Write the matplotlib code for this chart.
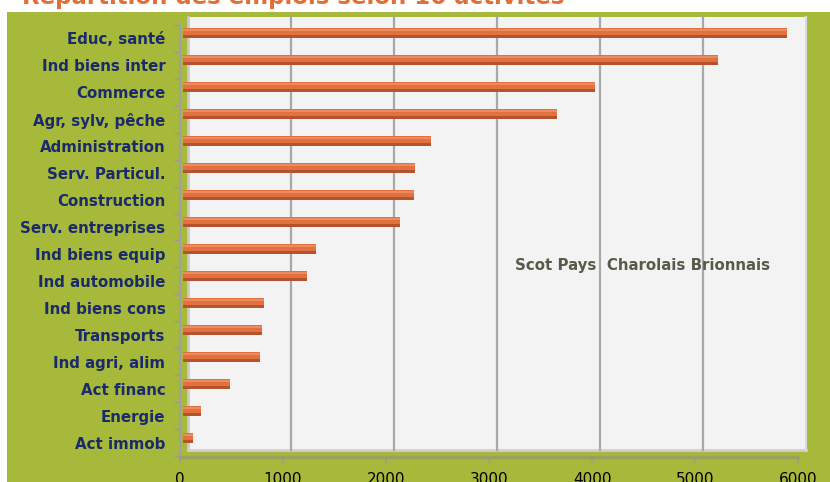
import numpy as np
import matplotlib.pyplot as plt
from matplotlib.patches import Rectangle
from matplotlib.transforms import offset_copy

# ── Données ───────────────────────────────────────────────────────────────────
activites = ['Educ, santé', 'Ind biens inter', 'Commerce', 'Agr, sylv, pêche',
             'Administration', 'Serv. Particul.', 'Construction',
             'Serv. entreprises', 'Ind biens equip', 'Ind automobile',
             'Ind biens cons', 'Transports', 'Ind agri, alim', 'Act financ',
             'Energie', 'Act immob']
emplois = [5860, 5190, 4000, 3630, 2410, 2250, 2240, 2110,
           1290, 1200, 790, 770, 750, 460, 170, 100]
xticks = [0, 1000, 2000, 3000, 4000, 5000, 6000]

titre = 'Répartition des emplois selon 16 activités'
zone = 'Scot Pays  Charolais Brionnais'

VERT = '#A6B93B'
ORANGE = '#E3713F'
BLEU = '#1B2A6B'

W, H = 830, 482
fig = plt.figure(figsize=(W / 100, H / 100), dpi=100)
fig.patch.set_facecolor('white')

# fond vert
fig.patches.append(Rectangle((7 / W, 0), 1, 1 - 12 / H, transform=fig.transFigure,
                             facecolor=VERT, edgecolor='none', zorder=-10))

# ── Axes (plan avant) ─────────────────────────────────────────────────────────
left, right, top, bottom = 180, 798, 24, 457
ax = fig.add_axes([left / W, 1 - bottom / H, (right - left) / W, (bottom - top) / H])
ax.set_zorder(5)
ax.set_facecolor('none')
ax.set_xlim(0, 6000)
ax.set_ylim(15.52, -0.52)

# ── Paroi du fond (effet 3D d'Excel) ──────────────────────────────────────────
fond = offset_copy(ax.get_xaxis_transform(), fig=fig, x=8, y=7, units='dots')
ax.add_patch(Rectangle((0, 0), 6000, 1, transform=fond, facecolor='#F3F3F3',
                       edgecolor='none', zorder=0, clip_on=False))
ax.plot([0, 0], [0, 1], transform=fond, color='#C9C9C9', lw=2, zorder=1, clip_on=False)
ax.plot([0, 6000], [0, 0], transform=fond, color='#D0D0D0', lw=2, zorder=1, clip_on=False)
ax.plot([6000, 6000], [0, 1], transform=fond, color='#DADADA', lw=1.5, zorder=1, clip_on=False)
for v in xticks[1:-1]:
    ax.plot([v, v], [0, 1], transform=fond, color='#A8A8A8', lw=1.6, zorder=1,
            clip_on=False)

# ── Barres "cylindres" (légèrement en profondeur) ─────────────────────────────
barres_t = offset_copy(ax.transData, fig=fig, x=3, y=0, units='dots')
y = np.arange(len(activites))
yc = y - 0.185
for h, dy, col in [(0.36, 0.0, ORANGE), (0.1, 0.13, '#B4532E'), (0.08, -0.12, '#EC8B5E')]:
    bars = ax.barh(yc + dy, emplois, height=h, color=col, edgecolor='none', zorder=3)
    for p in bars:
        p.set_transform(barres_t)
        p.set_clip_on(False)

ax.set_xticks(xticks)
ax.set_xticklabels([str(v) for v in xticks], fontsize=11, color='black')
ax.set_yticks(y)
ax.set_yticklabels(activites, fontsize=10.8, fontweight='bold', color=BLEU)
ax.set_yticks(np.arange(-0.5, len(activites), 1), minor=True)

ax.tick_params(axis='y', which='major', length=0, pad=10.5)
ax.tick_params(axis='y', which='minor', length=4, color='#9A9A9A', width=1)
ax.tick_params(axis='x', length=4, color='#9A9A9A', width=1.2, pad=7)

for s in ['top', 'right']:
    ax.spines[s].set_visible(False)
ax.spines['left'].set_color('#A0A0A0')
ax.spines['left'].set_linewidth(1.5)
ax.spines['bottom'].set_color('#9AA15E')
ax.spines['bottom'].set_linewidth(2.5)

ax.text(0.749, 0.443, zone, transform=ax.transAxes, ha='center', va='center',
        fontsize=10.8, fontweight='bold', color='#5A5A4A')

fig.text(22 / W, 1 - 4 / H, titre, ha='left', va='baseline',
         fontsize=16.5, fontweight='bold', color='#E07038')

fig.savefig('out.png', dpi=100, facecolor=fig.get_facecolor())
